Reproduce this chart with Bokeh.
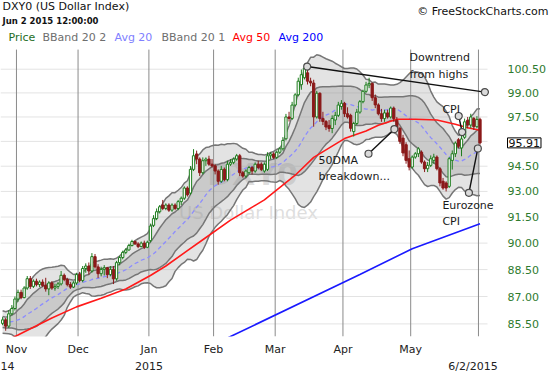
import numpy as np
import pandas as pd
from bokeh.plotting import figure
from bokeh.models import Range1d, FixedTicker, Label, ColumnDataSource, LinearAxis
from bokeh.core.properties import value
from bokeh.embed import file_html
from bokeh.resources import INLINE

FONT = "DejaVu Sans"

# ---------------- data ----------------
# trading days shown (weekdays, New Year's Day closed)
dates = [d for d in pd.bdate_range("2014-10-27", "2015-06-02") if d != pd.Timestamp("2015-01-01")]

# closes of the 19 sessions before the first visible bar (for the 20-day bands)
pre_closes = [86.0, 85.7, 85.6, 86.3, 85.9, 85.7, 85.3, 85.2, 85.8, 85.5,
              85.6, 85.1, 85.3, 85.4, 85.1, 85.5, 85.8, 85.9, 85.7]

opens = [85.53, 85.72, 85.38, 86.05, 86.34, 86.86, 87.23, 86.94, 87.47, 87.99,
         87.56, 87.85, 87.66, 87.80, 87.61, 87.42, 87.75, 87.47, 87.56, 87.70,
         88.18, 87.94, 87.66, 87.52, 87.75, 88.22, 87.89, 88.56, 88.70, 88.42,
         89.23, 88.65, 88.27, 88.51, 88.60, 88.22, 88.51, 87.98, 88.89, 89.18,
         89.47, 89.61, 89.86, 90.09, 89.95, 89.80, 90.00, 89.76, 90.14, 91.02,
         91.41, 91.81, 92.20, 92.00, 92.20, 91.90, 92.20, 92.00, 92.40, 92.60,
         93.20, 92.90, 94.31, 95.24, 94.93, 94.11, 94.83, 94.93, 94.62, 94.52,
         94.21, 93.60, 94.31, 93.70, 94.62, 94.73, 94.93, 95.13, 94.11, 93.91,
         94.11, 94.42, 94.21, 94.62, 94.62, 94.21, 94.31, 95.13, 95.24, 95.03,
         95.34, 95.55, 96.16, 97.50, 97.41, 98.24, 98.88, 99.52, 99.96, 100.27,
         99.74, 99.62, 97.50, 98.98, 97.41, 97.22, 96.98, 96.79, 97.31, 97.60,
         98.15, 98.35, 97.70, 97.60, 96.60, 97.10, 97.80, 98.45, 99.10, 99.50,
         99.60, 98.70, 98.25, 97.70, 97.40, 97.75, 97.50, 98.05, 97.30, 96.80,
         96.20, 95.80, 94.95, 94.45, 95.05, 95.25, 95.35, 94.75, 94.35, 94.55,
         94.85, 95.05, 94.35, 93.60, 93.50, 93.30, 94.85, 95.25, 96.10, 95.60,
         96.25, 97.30, 97.00, 97.40, 96.90, 97.35]

highs = [85.87, 85.82, 86.25, 86.53, 87.00, 87.38, 87.38, 87.57, 88.14, 88.14,
         87.95, 87.99, 87.90, 87.95, 88.04, 87.85, 87.85, 87.71, 87.80, 88.42,
         88.28, 88.04, 87.80, 87.85, 88.32, 88.37, 88.70, 88.85, 88.90, 89.43,
         89.38, 88.80, 88.66, 88.75, 88.65, 88.70, 88.70, 88.99, 89.28, 89.57,
         89.71, 89.96, 90.19, 90.14, 90.05, 90.09, 90.14, 90.14, 91.12, 91.61,
         92.00, 92.20, 92.50, 92.30, 92.30, 92.30, 92.30, 92.50, 92.70, 93.30,
         93.30, 94.51, 95.53, 95.44, 95.03, 95.03, 95.03, 95.13, 94.93, 94.62,
         94.31, 94.52, 94.42, 94.83, 94.93, 95.03, 95.24, 95.24, 94.21, 94.31,
         94.52, 94.52, 94.73, 94.83, 94.73, 94.73, 95.34, 95.34, 95.34, 95.44,
         95.65, 96.26, 97.69, 97.82, 98.44, 98.98, 99.96, 100.48, 100.80, 100.48,
         99.96, 99.83, 99.13, 99.03, 97.82, 97.31, 97.31, 97.60, 97.82, 98.44,
         98.55, 98.44, 98.10, 97.70, 97.20, 98.00, 98.55, 99.20, 99.70, 99.96,
         99.65, 98.90, 98.35, 98.00, 97.95, 97.95, 98.15, 98.15, 97.50, 96.90,
         96.40, 95.95, 95.45, 95.15, 95.35, 95.65, 95.45, 94.85, 94.75, 95.15,
         95.25, 95.15, 94.45, 93.80, 93.60, 95.05, 95.45, 96.00, 96.20, 96.35,
         97.40, 97.50, 97.70, 97.50, 97.55, 97.45]

lows = [85.43, 85.13, 85.28, 85.96, 86.23, 86.71, 86.85, 86.90, 87.37, 87.42,
        87.47, 87.56, 87.52, 87.52, 87.27, 87.07, 87.37, 87.32, 87.42, 87.61,
        87.85, 87.56, 87.42, 87.47, 87.65, 87.79, 87.79, 88.32, 88.22, 88.32,
        88.55, 88.02, 88.12, 88.17, 88.02, 88.12, 87.69, 87.88, 88.74, 89.08,
        89.37, 89.56, 89.81, 89.90, 89.71, 89.76, 89.66, 89.71, 90.04, 90.92,
        91.32, 91.71, 91.90, 91.90, 91.80, 91.80, 91.90, 91.90, 92.20, 92.50,
        92.70, 92.80, 94.21, 94.62, 93.91, 94.01, 94.52, 94.52, 94.42, 94.01,
        93.40, 93.50, 93.60, 93.60, 94.52, 94.62, 94.83, 93.91, 93.81, 93.81,
        94.01, 94.01, 94.11, 94.31, 94.21, 94.11, 94.21, 94.93, 94.93, 94.93,
        95.24, 95.44, 96.06, 97.22, 97.31, 98.15, 98.78, 99.20, 99.85, 99.53,
        99.42, 96.90, 97.40, 97.20, 97.00, 96.69, 96.59, 96.50, 97.00, 97.50,
        97.95, 97.50, 97.40, 96.60, 96.30, 97.00, 97.70, 98.35, 99.00, 99.30,
        98.50, 98.05, 97.60, 97.20, 97.20, 97.40, 97.40, 97.20, 96.70, 95.85,
        95.10, 94.65, 94.25, 94.35, 94.95, 95.05, 94.65, 94.15, 94.15, 94.45,
        94.65, 94.25, 93.30, 93.10, 93.00, 93.20, 94.30, 95.05, 95.60, 95.10,
        96.15, 96.80, 96.80, 96.70, 96.80, 95.80]

closes = [85.72, 85.38, 86.05, 86.34, 86.86, 87.23, 86.94, 87.47, 87.99, 87.56,
          87.85, 87.66, 87.80, 87.61, 87.42, 87.75, 87.47, 87.56, 87.70, 88.18,
          87.94, 87.66, 87.52, 87.75, 88.22, 87.89, 88.56, 88.70, 88.42, 89.23,
          88.65, 88.27, 88.51, 88.60, 88.22, 88.51, 87.98, 88.89, 89.18, 89.47,
          89.61, 89.86, 90.09, 89.95, 89.80, 90.00, 89.76, 90.05, 90.98, 91.41,
          91.81, 92.10, 92.00, 92.20, 91.90, 92.20, 92.00, 92.40, 92.60, 93.20,
          92.80, 94.31, 95.13, 94.93, 94.11, 94.83, 94.93, 94.62, 94.52, 94.21,
          93.60, 94.31, 93.70, 94.62, 94.73, 94.93, 95.13, 94.11, 93.91, 94.21,
          94.42, 94.21, 94.62, 94.42, 94.31, 94.62, 95.13, 95.24, 95.03, 95.34,
          95.55, 96.06, 97.50, 97.41, 98.24, 98.88, 99.74, 100.15, 100.58, 99.74,
          99.63, 97.50, 98.98, 97.41, 97.22, 96.88, 96.79, 97.41, 97.60, 98.24,
          98.35, 97.70, 97.50, 96.80, 97.10, 97.80, 98.45, 99.10, 99.50, 99.60,
          98.70, 98.25, 97.70, 97.40, 97.75, 97.50, 98.05, 97.40, 96.80, 96.00,
          95.30, 94.85, 94.45, 95.05, 95.25, 95.55, 94.75, 94.35, 94.55, 94.95,
          95.05, 94.35, 93.50, 93.20, 93.20, 94.95, 95.25, 95.90, 95.70, 96.15,
          97.20, 97.00, 97.50, 96.90, 97.35, 95.91]

# 50-day and 200-day averages (bar index, value)
avg50_idx = [0, 5, 16, 24, 32, 40, 48, 53, 60, 65, 74, 85, 95, 101, 111, 118, 122, 128, 134, 141, 147, 151, 155]
avg50_val = [84.50, 84.90, 85.82, 86.43, 86.90, 87.42, 88.17, 88.70, 89.57, 90.19, 91.32, 92.50,
             93.96, 95.03, 96.17, 96.63, 96.99, 97.36, 97.36, 97.31, 97.05, 96.84, 96.68]
avg200_idx = [70, 74, 116, 133, 155]
avg200_val = [84.50, 84.82, 88.22, 89.68, 91.11]

# price-axis ticks
price_ticks = [85.5, 87.0, 88.5, 90.0, 91.5, 93.0, 94.5, 96.0, 97.5, 99.0, 100.5]
last_price = 95.91

# month / year labels
month_names = ["Nov", "Dec", "Jan", "Feb", "Mar", "Apr", "May", ""]
year_names = ["14", "2015", "6/2/2015"]

# annotation lines (bar index, price)
ann_x0 = [98.9, 118.8, 148.1, 151.4]
ann_y0 = [100.67, 95.25, 97.56, 92.92]
ann_x1 = [156.6, 127.2, 149.2, 154.3]
ann_y1 = [99.05, 96.75, 96.57, 95.57]
note_text = ["Downtrend", "from highs", "50DMA", "breakdown...", "CPI", "Eurozone", "CPI"]
note_x = [132.1, 132.1, 102.6, 102.6, 142.8, 142.8, 142.8]
note_y = [101.25, 100.19, 94.84, 93.90, 97.96, 92.16, 91.24]

# ---------------- derived ----------------
n = len(closes)
idx = np.arange(n)
o = np.array(opens); h = np.array(highs); l = np.array(lows); c = np.array(closes)
s = pd.Series(pre_closes + closes)
ma20 = s.rolling(20).mean().to_numpy()[len(pre_closes):]
sd20 = s.rolling(20).std(ddof=0).to_numpy()[len(pre_closes):]

month_pos = [i - 0.5 for i in range(1, n) if dates[i].month != dates[i - 1].month][:7]
month_pos.append(n - 1 - 0.5)

# ---------------- layout constants ----------------
PX = 3.08            # pixels per bar
X0 = 2.1             # screen x of bar 0
def bar_at(xs):      # screen x -> bar coordinate
    return (xs - X0) / PX
PLOT_TOP = 101.76    # price at the top edge of the chart area
PLOT_BOT = 84.82     # price at the bottom edge of the chart area
PLOT_RIGHT = bar_at(487)

# ---------------- figure ----------------
p = figure(width=550, height=375, output_backend="svg", toolbar_location=None,
           title=None, y_axis_type="log", y_axis_location=None,
           x_range=Range1d(bar_at(0), bar_at(550)), y_range=Range1d(PLOT_BOT, 104.98),
           min_border_left=0, min_border_right=0, min_border_top=0, min_border_bottom=33)
p.styles = {"position": "absolute", "left": "0px", "top": "0px"}
p.outline_line_color = None
p.background_fill_color = "white"
p.border_fill_color = "white"
p.xgrid.visible = False
p.ygrid.visible = False

# month axis
p.xaxis.ticker = FixedTicker(ticks=month_pos)
p.xaxis.major_label_overrides = {pos: lab for pos, lab in zip(month_pos, month_names)}
ax2 = LinearAxis(ticker=FixedTicker(ticks=[bar_at(7), month_pos[2], bar_at(472.5)]))
ax2.major_label_overrides = {bar_at(7): year_names[0], month_pos[2]: year_names[1],
                             bar_at(472.5): year_names[2]}
p.add_layout(ax2, "below")
for ax, so in ((p.xaxis[0], 6), (ax2, 1)):
    ax.major_label_text_font = FONT
    ax.major_label_text_font_size = "11px"
    ax.major_label_text_color = "#222222"
    ax.axis_line_color = None
    ax.major_tick_line_color = None
    ax.minor_tick_line_color = None
    ax.major_tick_out = 0
    ax.major_tick_in = 0
    ax.major_label_standoff = so

# grid lines limited to the chart area
p.segment(x0=[bar_at(0)] * len(price_ticks), y0=price_ticks, x1=[PLOT_RIGHT] * len(price_ticks),
          y1=price_ticks, line_color="#e3e3e3", line_width=1)
p.segment(x0=month_pos, y0=[PLOT_TOP] * len(month_pos), x1=month_pos, y1=[PLOT_BOT] * len(month_pos),
          line_color="#8a8a8a", line_width=1)

# price labels at right
lab_ticks = [t for t in price_ticks if abs(t - 96.0) > 0.01]
p.text(x=[bar_at(507)] * len(lab_ticks), y=lab_ticks, text=[f"{t:.2f}" for t in lab_ticks],
       text_font=value(FONT), text_font_size=value("11px"), text_color="#2e7b2e",
       text_baseline="middle", text_align="left")

# watermark
for txt, xs, ys, sz, st in [("DXY0", 252, 162, "30px", "bold"), ("US Dollar Index", 248, 124, "18px", "normal")]:
    p.add_layout(Label(x=xs, y=ys, x_units="screen", y_units="screen", text=txt,
                       text_font=FONT, text_font_size=sz, text_font_style=st,
                       text_color="#cfcfcf", text_alpha=0.7, text_align="center",
                       text_baseline="middle", level="underlay"))

# Bollinger bands
up2 = ma20 + 2 * sd20; lo2 = ma20 - 2 * sd20
up1 = ma20 + sd20; lo1 = ma20 - sd20
p.varea(x=idx, y1=lo2, y2=up2, fill_color="#a9a9a9", fill_alpha=0.33)
p.varea(x=idx, y1=lo1, y2=up1, fill_color="#8a8a8a", fill_alpha=0.27)
for band in (up2, lo2, up1, lo1):
    p.line(idx, band, line_color="#767676", line_width=1.5)
p.line(idx, ma20, line_color="#8c8cff", line_width=1.3, line_dash="4 3")

# long averages
p.line(avg200_idx, avg200_val, line_color="#1a1aff", line_width=1.6)
p.line(avg50_idx, avg50_val, line_color="#ff1a1a", line_width=1.6)

# candles
GREEN = "#1d7d1d"
RED = "#8b1a1a"
up = c >= o
top = np.maximum(o, c); bot = np.minimum(o, c)
src_up = ColumnDataSource(dict(x=idx[up], top=top[up], bot=bot[up], h=h[up], l=l[up]))
src_dn = ColumnDataSource(dict(x=idx[~up], top=top[~up], bot=bot[~up], h=h[~up], l=l[~up]))
p.segment(x0="x", y0="l", x1="x", y1="h", source=src_up, line_color=GREEN, line_width=1)
p.segment(x0="x", y0="l", x1="x", y1="h", source=src_dn, line_color=RED, line_width=1)
p.vbar(x="x", width=0.74, top="top", bottom="bot", source=src_up,
       fill_color="white", line_color=GREEN, line_width=1)
p.vbar(x="x", width=0.74, top="top", bottom="bot", source=src_dn,
       fill_color=RED, line_color=RED, line_width=1)

# annotations
p.segment(x0=ann_x0, y0=ann_y0, x1=ann_x1, y1=ann_y1, line_color="#111111", line_width=1.4)
p.scatter(ann_x0 + ann_x1, ann_y0 + ann_y1, marker="circle", size=7,
          fill_color="#dadada", line_color="#4a4a4a", line_width=1.2)
for txt, xx, yy in zip(note_text, note_x, note_y):
    p.add_layout(Label(x=xx, y=yy, text=txt, text_font=FONT, text_font_size="11px",
                       text_color="#1a1a1a", text_baseline="middle", text_align="left"))

# last price box
p.add_layout(Label(x=bar_at(507), y=last_price, text=f"{last_price:.2f}",
                   text_font=FONT, text_font_size="11px", text_color="#111111",
                   text_baseline="middle", text_align="left", padding=1,
                   border_line_color="black", border_line_width=1, background_fill_color="white"))

# header texts and legend row (screen positions; frame bottom at y=342)
FB = 342
header = [
    ("DXY0 (US Dollar Index)", 2, 12, "#111111", "11px", "normal", "left"),
    ("Jun 2 2015 12:00:00", 2, 26, "#111111", "8.5px", "bold", "left"),
    ("\u00a9 FreeStockCharts.com", 548, 17, "#111111", "11px", "normal", "right"),
    ("Price", 8, 43, "#1e6e1e", "11px", "normal", "left"),
    ("BBand 20 2", 42, 43, "#6e6e6e", "11px", "normal", "left"),
    ("Avg 20", 114, 43, "#8080ff", "11px", "normal", "left"),
    ("BBand 20 1", 161, 43, "#6e6e6e", "11px", "normal", "left"),
    ("Avg 50", 232, 43, "#ff0000", "11px", "normal", "left"),
    ("Avg 200", 278, 43, "#0000ff", "11px", "normal", "left"),
]
for txt, xs, ys, col, sz, st, al in header:
    p.add_layout(Label(x=xs, y=FB - ys, x_units="screen", y_units="screen", text=txt,
                       text_font=FONT, text_font_size=sz, text_font_style=st, text_color=col,
                       text_align=al, text_baseline="middle"))

open("out.html", "w").write(file_html(p, INLINE))
